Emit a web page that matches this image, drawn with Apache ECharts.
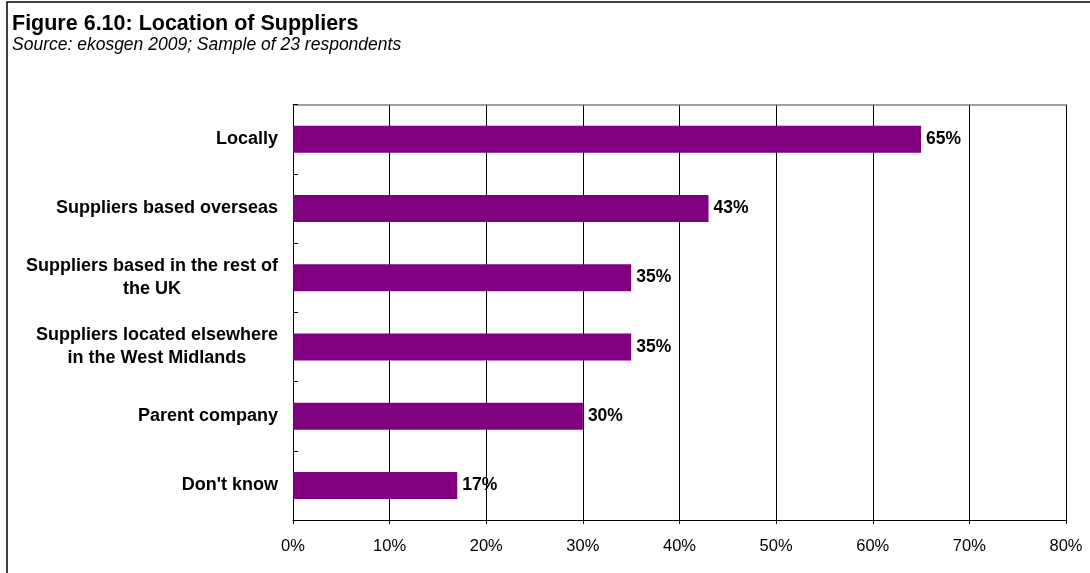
<!DOCTYPE html>
<html>
<head>
<meta charset="utf-8">
<title>Location of Suppliers</title>
<script src="https://cdn.jsdelivr.net/npm/echarts@6/dist/echarts.min.js"></script>
<style>
  html, body { margin: 0; padding: 0; background: #ffffff; }
  #chart { width: 1090px; height: 573px; }
</style>
</head>
<body>
<div id="chart"></div>
<script>
// Supplier locations, top to bottom
const categories = [
  'Locally',
  'Suppliers based overseas',
  'Suppliers based in the rest of\nthe UK',
  'Suppliers located elsewhere\nin the West Midlands',
  'Parent company',
  "Don't know"
];
// Share of respondents (%)
const shares = [65, 43, 35, 35, 30, 17];
// Percentage axis
const axisMin = 0;
const axisMax = 80;
const axisStep = 10;

const FONT = '"Liberation Sans", Arial, Helvetica, sans-serif';
const chart = echarts.init(document.getElementById('chart'), null, { renderer: 'canvas' });

chart.setOption({
  animation: false,
  backgroundColor: '#ffffff',
  textStyle: { fontFamily: FONT },
  graphic: [
    {
      type: 'rect',
      shape: { x: 7, y: 2, width: 1200, height: 700 },
      style: { fill: 'none', stroke: '#000000', lineWidth: 1.5 },
      silent: true
    },
    {
      type: 'text', left: 12, top: 13,
      style: { text: 'Figure 6.10: Location of Suppliers', font: 'bold 21.5px ' + FONT, fill: '#000000' }
    },
    {
      type: 'text', left: 12, top: 36,
      style: { text: 'Source: ekosgen 2009; Sample of 23 respondents', font: 'italic 17.5px ' + FONT, fill: '#000000' }
    }
  ],
  grid: { left: 293, right: 24, top: 104.5, bottom: 53, containLabel: false },
  xAxis: [
    {
      type: 'value',
      min: axisMin, max: axisMax, interval: axisStep,
      position: 'bottom',
      axisLine: { show: true, lineStyle: { color: '#000000', width: 1 } },
      axisTick: { show: true, length: 4, lineStyle: { color: '#000000' } },
      axisLabel: { formatter: '{value}%', color: '#000000', fontSize: 16.5, margin: 18, fontFamily: FONT },
      splitLine: { show: true, lineStyle: { color: '#000000', width: 1 } }
    },
    {
      type: 'value',
      min: axisMin, max: axisMax, interval: axisStep,
      position: 'top',
      axisLine: { show: true, lineStyle: { color: '#808080', width: 1.5 } },
      axisTick: { show: false },
      axisLabel: { show: false },
      splitLine: { show: false }
    }
  ],
  yAxis: {
    type: 'category',
    data: categories,
    inverse: true,
    axisLine: { show: true, lineStyle: { color: '#000000', width: 1 } },
    axisTick: { show: true, inside: true, length: 5, lineStyle: { color: '#000000' } },
    axisLabel: {
      margin: 15,
      color: '#000000',
      formatter: v => v.split('\n').map(l => '{c|' + l + '}').join('\n'),
      rich: {
        c: { align: 'center', fontSize: 18, fontWeight: 'bold', lineHeight: 23, color: '#000000', fontFamily: FONT }
      }
    },
    splitLine: { show: false }
  },
  series: [
    {
      type: 'bar',
      data: shares,
      barWidth: 27,
      itemStyle: { color: '#800080' },
      label: {
        show: true,
        position: 'right',
        distance: 5,
        formatter: '{c}%',
        color: '#000000',
        fontSize: 17.5,
        fontWeight: 'bold',
        fontFamily: FONT
      }
    }
  ]
});
</script>
</body>
</html>
